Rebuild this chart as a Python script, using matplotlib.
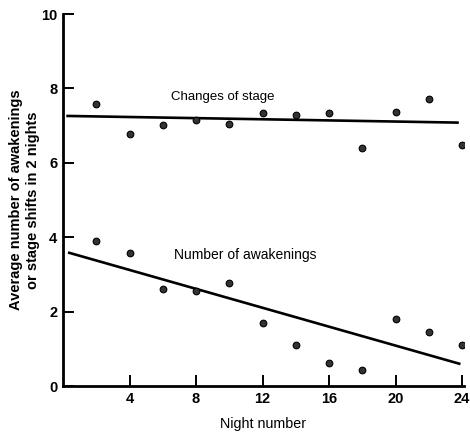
import matplotlib
matplotlib.use("Agg")
import matplotlib.pyplot as plt
from matplotlib import font_manager

nights = [2, 4, 6, 8, 10, 12, 14, 16, 18, 20, 22, 24]
changes_of_stage = [7.59, 6.78, 7.02, 7.16, 7.05, 7.35, 7.29, 7.35, 6.41, 7.37, 7.72, 6.49]
awakenings = [3.89, 3.57, 2.60, 2.55, 2.76, 1.69, 1.10, 0.62, 0.43, 1.80, 1.45, 1.10]
stage_fit_x = [0.2, 23.8]
stage_fit_y = [7.26, 7.08]
awake_fit_x = [0.3, 23.9]
awake_fit_y = [3.59, 0.59]
xticks = [4, 8, 12, 16, 20, 24]
yticks = [0, 2, 4, 6, 8, 10]

names = {f.name for f in font_manager.fontManager.ttflist}
fam = "Liberation Sans Narrow" if "Liberation Sans Narrow" in names else "Liberation Sans"
plt.rcParams['font.family'] = [fam, 'DejaVu Sans']

fig = plt.figure(figsize=(4.7, 4.33), dpi=100)
ax = fig.add_axes([63/470, 1-386/433, 400.8/470, (386-14)/433])

ax.plot(stage_fit_x, stage_fit_y, color='black', lw=1.9, solid_capstyle='butt')
ax.plot(awake_fit_x, awake_fit_y, color='black', lw=1.9, solid_capstyle='butt')
ax.plot(nights, changes_of_stage, 'o', ms=4.8, mfc='#333333', mec='black', mew=0.8)
ax.plot(nights, awakenings, 'o', ms=4.8, mfc='#333333', mec='black', mew=0.8)

ax.text(6.5, 7.77, "Changes of stage", fontsize=9.5, va='center', ha='left')
ax.text(6.65, 3.51, "Number of awakenings", fontsize=10, va='center', ha='left')

ax.set_xlim(0, 24.1)
ax.set_ylim(0, 10)
ax.set_xticks(xticks)
ax.set_yticks(yticks)
ax.set_xticklabels([str(t) for t in xticks], fontsize=10.5, fontweight='bold')
ax.set_yticklabels([str(t) for t in yticks], fontsize=10.5, fontweight='bold')
ax.tick_params(direction='in', length=8, width=1.4, pad=4)
for s in ['top', 'right']:
    ax.spines[s].set_visible(False)
for s in ['left', 'bottom']:
    ax.spines[s].set_linewidth(2)

ax.set_xlabel("Night number", fontsize=10.3, labelpad=8)
ax.set_ylabel("Average number of awakenings\nor stage shifts in 2 nights", fontsize=10.5,
              fontweight='bold', labelpad=1, linespacing=1.3)

fig.savefig("out.png", dpi=100)
